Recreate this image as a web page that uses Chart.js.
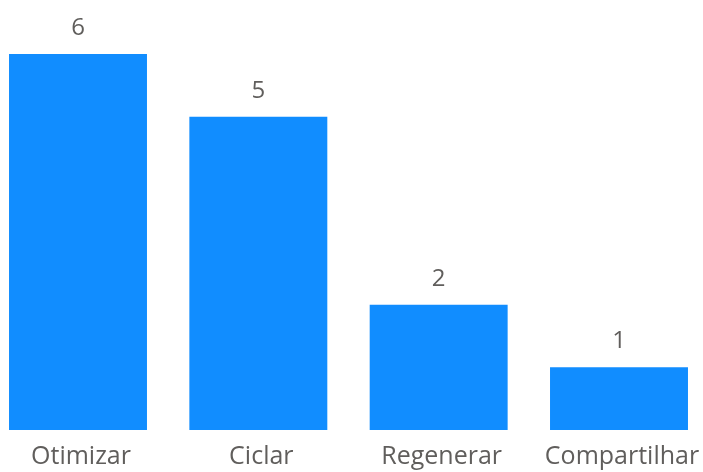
<!DOCTYPE html>
<html>
<head>
<meta charset="utf-8">
<script src="https://cdn.jsdelivr.net/npm/chart.js@4/dist/chart.umd.min.js"></script>
<style>
  html, body { margin: 0; padding: 0; background: #ffffff; }
  #wrap { width: 703px; height: 472px; position: relative; }
</style>
</head>
<body>
<div id="wrap"><canvas id="chart"></canvas></div>
<script>
// Categories and their counts
const categories = ["Otimizar", "Ciclar", "Regenerar", "Compartilhar"];
const counts = [6, 5, 2, 1];

const BAR_COLOR = "#118DFF";
const TEXT_COLOR = "#605E5C";
const FONT_FAMILY = "'Segoe UI', 'Open Sans', sans-serif";

// Value labels drawn just above each bar
const valueLabels = {
  id: "valueLabels",
  afterDatasetsDraw(chart) {
    const ctx = chart.ctx;
    ctx.save();
    ctx.fillStyle = TEXT_COLOR;
    ctx.font = "24px " + FONT_FAMILY;
    ctx.textAlign = "center";
    ctx.textBaseline = "bottom";
    chart.getDatasetMeta(0).data.forEach((bar, i) => {
      const v = chart.data.datasets[0].data[i];
      ctx.fillText(String(v), bar.x, bar.y - 14);
    });
    ctx.restore();
  }
};

new Chart(document.getElementById("chart"), {
  type: "bar",
  data: {
    labels: categories,
    datasets: [{
      data: counts,
      backgroundColor: BAR_COLOR,
      borderWidth: 0,
      clip: false,
      categoryPercentage: 1,
      barPercentage: 0.765
    }]
  },
  options: {
    responsive: true,
    maintainAspectRatio: false,
    animation: false,
    layout: { padding: { left: 78, right: 84, top: 54, bottom: 0 } },
    plugins: {
      legend: { display: false },
      tooltip: { enabled: false }
    },
    scales: {
      x: {
        offset: false,
        grid: { display: false, drawTicks: false },
        border: { display: false },
        ticks: {
          color: TEXT_COLOR,
          font: { family: FONT_FAMILY, size: 25 },
          padding: 12,
          labelOffset: 3,
          maxRotation: 0,
          autoSkip: false
        },
        afterFit(scale) {
          scale.height = 42;
          scale.paddingLeft = 0;
          scale.paddingRight = 0;
        }
      },
      y: {
        display: false,
        min: 0,
        max: 6
      }
    }
  },
  plugins: [valueLabels]
});
</script>
</body>
</html>
